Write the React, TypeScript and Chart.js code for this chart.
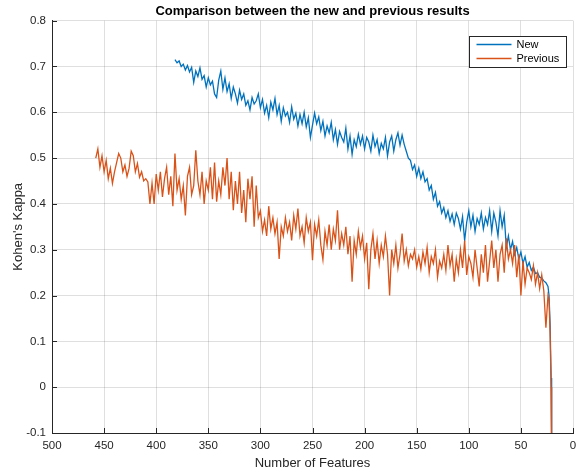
import React, { useEffect, useRef } from "react";
import { Chart, registerables } from "chart.js";

Chart.register(...registerables);

const FONT = "'Liberation Sans', Arial, Helvetica, sans-serif";

const titleText = "Comparison between the new and previous results";
const xAxisTitle = "Number of Features";
const yAxisTitle = "Kohen's Kappa";
const seriesNames = ["New", "Previous"];
const seriesColors = ["#0072BD", "#D95319"];

const featureStep = 2;
const newStart = 382;
const newValues = [
  0.715, 0.708, 0.712, 0.700, 0.705, 0.692, 0.702, 0.688, 0.698, 0.665,
  0.690, 0.678, 0.697, 0.672, 0.680, 0.655, 0.675, 0.660, 0.668, 0.640,
  0.632, 0.670, 0.690, 0.650, 0.675, 0.645, 0.662, 0.630, 0.655, 0.640,
  0.620, 0.648, 0.628, 0.640, 0.615, 0.625, 0.605, 0.632, 0.618, 0.625,
  0.640, 0.610, 0.628, 0.598, 0.615, 0.588, 0.622, 0.605, 0.630, 0.595,
  0.615, 0.580, 0.610, 0.592, 0.600, 0.578, 0.612, 0.585, 0.598, 0.570,
  0.595, 0.575, 0.600, 0.568, 0.588, 0.545, 0.572, 0.598, 0.575, 0.590,
  0.560, 0.580, 0.548, 0.570, 0.555, 0.578, 0.540, 0.562, 0.530, 0.558,
  0.545, 0.535, 0.565, 0.520, 0.548, 0.508, 0.540, 0.525, 0.552, 0.530,
  0.548, 0.520, 0.545, 0.535, 0.515, 0.550, 0.525, 0.540, 0.510, 0.532,
  0.520, 0.545, 0.505, 0.535, 0.548, 0.515, 0.540, 0.555, 0.528, 0.550,
  0.530, 0.515, 0.500, 0.495, 0.475, 0.485, 0.460, 0.478, 0.455, 0.470,
  0.448, 0.455, 0.430, 0.440, 0.410, 0.425, 0.395, 0.405, 0.380, 0.392,
  0.370, 0.385, 0.362, 0.378, 0.355, 0.380, 0.368, 0.345, 0.372, 0.320,
  0.360, 0.385, 0.350, 0.375, 0.340, 0.368, 0.355, 0.380, 0.345, 0.370,
  0.355, 0.385, 0.340, 0.380, 0.360, 0.330, 0.385, 0.350, 0.375, 0.305,
  0.330, 0.300, 0.318, 0.290, 0.305, 0.280, 0.295, 0.270, 0.285, 0.262,
  0.272, 0.255, 0.262, 0.248, 0.250, 0.240, 0.238, 0.232, 0.228, 0.220,
];
const newTailFeatures = [23, 22, 21, 20.5];
const newTailValues = [0.2, 0.14, 0.02, -0.15];

const prevStart = 458;
const prevValues = [
  0.500, 0.520, 0.480, 0.505, 0.470, 0.495, 0.455, 0.478, 0.445, 0.470,
  0.490, 0.510, 0.500, 0.470, 0.485, 0.460, 0.478, 0.515, 0.505, 0.470,
  0.488, 0.458, 0.470, 0.450, 0.455, 0.448, 0.400, 0.445, 0.400, 0.465,
  0.430, 0.470, 0.415, 0.455, 0.480, 0.420, 0.460, 0.395, 0.510, 0.430,
  0.455, 0.410, 0.440, 0.375, 0.460, 0.480, 0.420, 0.440, 0.517, 0.450,
  0.420, 0.470, 0.400, 0.450, 0.430, 0.480, 0.410, 0.490, 0.405, 0.450,
  0.420, 0.480, 0.440, 0.500, 0.410, 0.470, 0.386, 0.450, 0.400, 0.470,
  0.380, 0.430, 0.360, 0.455, 0.410, 0.460, 0.350, 0.440, 0.370, 0.385,
  0.340, 0.365, 0.330, 0.395, 0.345, 0.370, 0.335, 0.360, 0.280, 0.350,
  0.330, 0.370, 0.340, 0.360, 0.320, 0.375, 0.345, 0.390, 0.330, 0.350,
  0.315, 0.370, 0.340, 0.360, 0.277, 0.355, 0.330, 0.365, 0.310, 0.278,
  0.340, 0.310, 0.355, 0.300, 0.345, 0.320, 0.386, 0.300, 0.335, 0.310,
  0.350, 0.290, 0.330, 0.230, 0.320, 0.290, 0.340, 0.305, 0.330, 0.280,
  0.315, 0.214, 0.300, 0.335, 0.280, 0.320, 0.270, 0.310, 0.285, 0.330,
  0.290, 0.200, 0.300, 0.270, 0.310, 0.260, 0.290, 0.335, 0.275, 0.300,
  0.265, 0.290, 0.280, 0.300, 0.262, 0.285, 0.258, 0.295, 0.270, 0.305,
  0.250, 0.285, 0.270, 0.300, 0.240, 0.275, 0.260, 0.290, 0.255, 0.310,
  0.265, 0.290, 0.230, 0.280, 0.250, 0.300, 0.260, 0.320, 0.245, 0.285,
  0.270, 0.240, 0.300, 0.260, 0.220, 0.290, 0.250, 0.310, 0.230, 0.275,
  0.320, 0.260, 0.300, 0.230, 0.290, 0.310, 0.250, 0.325, 0.280, 0.300,
  0.270, 0.310, 0.240, 0.290, 0.200, 0.275, 0.225, 0.260, 0.250, 0.235,
  0.265, 0.225, 0.250, 0.215, 0.245, 0.210, 0.130, 0.200,
];
const prevTailFeatures = [23, 22, 21, 20.5];
const prevTailValues = [0.19, 0.12, 0.0, -0.15];

const xMin = 0;
const xMax = 500;
const xStep = 50;
const yMin = -0.1;
const yMax = 0.8;
const yStep = 0.1;

function buildSeries(start: number, values: number[], tailX: number[], tailY: number[]) {
  const pts = values.map((v, i) => ({ x: start - i * featureStep, y: v }));
  return pts.concat(tailX.map((x, i) => ({ x, y: tailY[i] })));
}

const axisColor = "#262626";
const gridColor = "rgba(38,38,38,0.15)";

const innerTicks = {
  id: "innerTicks",
  afterDatasetsDraw(chart: any) {
    const { ctx, chartArea, scales } = chart;
    ctx.save();
    ctx.strokeStyle = axisColor;
    ctx.lineWidth = 1;
    ctx.beginPath();
    scales.x.ticks.forEach((t: any) => {
      const px = Math.round(scales.x.getPixelForValue(t.value)) + 0.5;
      ctx.moveTo(px, chartArea.bottom);
      ctx.lineTo(px, chartArea.bottom - 5);
    });
    scales.y.ticks.forEach((t: any) => {
      const py = Math.round(scales.y.getPixelForValue(t.value)) + 0.5;
      ctx.moveTo(chartArea.left, py);
      ctx.lineTo(chartArea.left + 5, py);
    });
    ctx.stroke();
    ctx.restore();
  },
};

const boxLegend = {
  id: "boxLegend",
  afterDraw(chart: any) {
    const { ctx, chartArea } = chart;
    const w = 97;
    const h = 31;
    const left = Math.round(chartArea.right - 104) + 0.5;
    const top = Math.round(chartArea.top + 15) + 0.5;
    ctx.save();
    ctx.fillStyle = "#ffffff";
    ctx.fillRect(left, top, w, h);
    ctx.strokeStyle = axisColor;
    ctx.lineWidth = 1;
    ctx.strokeRect(left, top, w, h);
    ctx.font = `11px ${FONT}`;
    ctx.textBaseline = "middle";
    ctx.textAlign = "left";
    seriesNames.forEach((name, i) => {
      const y = top + 8 + i * 14;
      ctx.strokeStyle = seriesColors[i];
      ctx.lineWidth = 1.3;
      ctx.beginPath();
      ctx.moveTo(left + 7, y);
      ctx.lineTo(left + 42, y);
      ctx.stroke();
      ctx.fillStyle = "#000000";
      ctx.fillText(name, left + 47, y + 0.5);
    });
    ctx.restore();
  },
};

export default function App() {
  const ref = useRef<HTMLCanvasElement | null>(null);
  useEffect(() => {
    document.body.style.margin = "0";
    const canvas = ref.current;
    if (!canvas) return;
    const chart = new Chart(canvas, {
      type: "line",
      data: {
        datasets: [
          {
            label: seriesNames[0],
            data: buildSeries(newStart, newValues, newTailFeatures, newTailValues),
            borderColor: seriesColors[0],
            backgroundColor: seriesColors[0],
            borderWidth: 1.3,
            pointRadius: 0,
            tension: 0,
            order: 1,
          },
          {
            label: seriesNames[1],
            data: buildSeries(prevStart, prevValues, prevTailFeatures, prevTailValues),
            borderColor: seriesColors[1],
            backgroundColor: seriesColors[1],
            borderWidth: 1.3,
            pointRadius: 0,
            tension: 0,
            order: 0,
          },
        ],
      },
      options: {
        animation: false,
        responsive: false,
        maintainAspectRatio: false,
        layout: { padding: { left: 0, right: 3, top: 0, bottom: 0 } },
        plugins: {
          legend: { display: false },
          tooltip: { enabled: false },
          title: {
            display: true,
            text: titleText,
            fullSize: false,
            color: "#000000",
            font: { family: FONT, size: 13, weight: "bold" },
            padding: { top: 4, bottom: 1 },
          },
        },
        scales: {
          x: {
            type: "linear",
            reverse: true,
            min: xMin,
            max: xMax,
            afterFit: (s: any) => {
              s.height = 39;
              s.paddingLeft = 0;
              s.paddingRight = 0;
            },
            ticks: {
              stepSize: xStep,
              color: axisColor,
              font: { family: FONT, size: 11.5 },
              padding: 6,
              maxRotation: 0,
              autoSkip: false,
            },
            grid: { color: gridColor, drawTicks: false, lineWidth: 1 },
            border: { display: true, color: axisColor, width: 1 },
            title: {
              display: true,
              text: xAxisTitle,
              color: axisColor,
              font: { family: FONT, size: 13 },
              padding: { top: 0, bottom: 1 },
            },
          },
          y: {
            type: "linear",
            min: yMin,
            max: yMax,
            afterFit: (s: any) => {
              s.width = 52;
              s.paddingTop = 0;
              s.paddingBottom = 0;
            },
            ticks: {
              stepSize: yStep,
              color: axisColor,
              font: { family: FONT, size: 11.5 },
              padding: 6,
              callback: (v: any) => String(Number(Number(v).toFixed(1))),
            },
            grid: { color: gridColor, drawTicks: false, lineWidth: 1 },
            border: { display: true, color: axisColor, width: 1 },
            title: {
              display: true,
              text: yAxisTitle,
              color: axisColor,
              font: { family: FONT, size: 13 },
              padding: { top: 11, bottom: 0 },
            },
          },
        },
      },
      plugins: [innerTicks, boxLegend],
    });
    return () => chart.destroy();
  }, []);
  return (
    <div style={{ width: 576, height: 472 }}>
      <canvas ref={ref} width={576} height={472} style={{ display: "block" }} />
    </div>
  );
}
